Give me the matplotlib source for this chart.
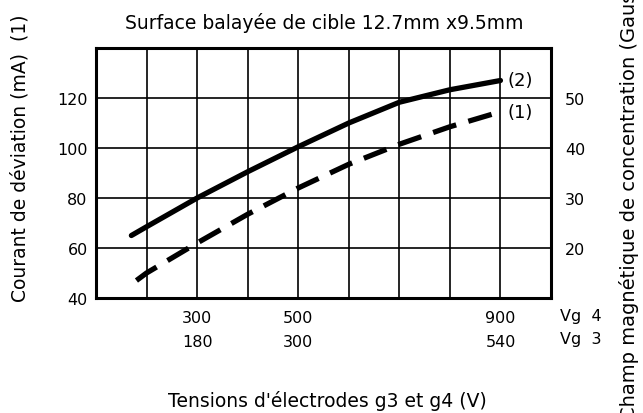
import matplotlib
matplotlib.use("Agg")
import matplotlib.pyplot as plt
import numpy as np

# ---- data ----
vg4_field = [170, 200, 300, 400, 500, 600, 700, 800, 900]
field_curve_left = [65, 68.5, 80, 90.5, 100.5, 110, 118.3, 123.3, 127]   # curve (2), on left-axis scale
vg4_current = [180, 200, 300, 400, 500, 600, 700, 800, 900]
current_curve = [47, 50, 62, 73.5, 84, 93.5, 101.5, 108.5, 114.5]     # curve (1)

x_tick_vg4 = [300, 500, 900]
x_tick_vg3 = [180, 300, 540]
y_ticks_left = [40, 60, 80, 100, 120]
y_ticks_right = [20, 30, 40, 50]

title = "Surface balayée de cible 12.7mm x9.5mm"
xlabel = "Tensions d'électrodes g3 et g4 (V)"
ylabel_left = "Courant de déviation (mA)  (1)"
ylabel_right = "Champ magnétique de concentration (Gauss)  (2)"

plt.rcParams['font.family'] = ['DejaVu Sans']
FS = 11
LFS = 13.5

fig = plt.figure(figsize=(6.43, 4.14), dpi=100)
W, H = 643, 414
ax = fig.add_axes([96 / W, 1 - 299 / H, (551 - 96) / W, (299 - 49) / H])

ax.set_xlim(100, 1000)
ax.set_ylim(40, 140)

# grid
for v in range(200, 1000, 100):
    ax.axvline(v, color='black', lw=1.2, zorder=1)
for y in [60, 80, 100, 120]:
    ax.axhline(y, color='black', lw=1.2, zorder=1)

for s in ax.spines.values():
    s.set_linewidth(2.2)
    s.set_color('black')

ax.plot(vg4_field, field_curve_left, color='black', lw=3.8, solid_capstyle='round',
        solid_joinstyle='round', zorder=3)
ax.plot(vg4_current, current_curve, color='black', lw=3.8, dashes=(4.6, 2.4),
        dash_capstyle='butt', zorder=3)

ax.annotate("(2)", xy=(vg4_field[-1], field_curve_left[-1]), xytext=(5, 0),
            textcoords='offset points', va='center', ha='left', fontsize=FS + 2)
ax.annotate("(1)", xy=(vg4_current[-1], current_curve[-1]), xytext=(5, 0),
            textcoords='offset points', va='center', ha='left', fontsize=FS + 2)

ax.set_xticks(x_tick_vg4)
ax.set_xticklabels([str(v) for v in x_tick_vg4])
ax.set_yticks(y_ticks_left)
ax.tick_params(axis='both', length=0, labelsize=FS + 0.5)
ax.tick_params(axis='x', pad=9)
ax.tick_params(axis='y', pad=6)

sec = ax.secondary_xaxis('bottom', functions=(lambda v: np.asarray(v) * 0.6,
                                              lambda v: np.asarray(v) / 0.6))
sec.set_xticks(x_tick_vg3)
sec.set_xticklabels([str(v) for v in x_tick_vg3])
sec.tick_params(length=0, labelsize=FS + 0.5, pad=26)
sec.spines['bottom'].set_visible(False)

ax2 = ax.twinx()
ax2.set_ylim((40 - 20) / 2, (140 - 20) / 2)
ax2.set_yticks(y_ticks_right)
ax2.tick_params(length=0, labelsize=FS + 0.5, pad=10)
for s in ax2.spines.values():
    s.set_visible(False)

fig.text(560 / W, 1 - 317 / H, "Vg  4", fontsize=FS + 0.5, va='center', ha='left')
fig.text(560 / W, 1 - 340 / H, "Vg  3", fontsize=FS + 0.5, va='center', ha='left')

fig.text(324 / W, 1 - 23 / H, title, fontsize=LFS, ha='center', va='center')
fig.text(327 / W, 1 - 401 / H, xlabel, fontsize=LFS, ha='center', va='center')
fig.text(20 / W, 1 - 158 / H, ylabel_left, fontsize=LFS, rotation=90, ha='center', va='center')
fig.text(629 / W, -6 / H, ylabel_right, fontsize=LFS + 0.5, rotation=90, ha='center', va='bottom')

fig.savefig("out.png", dpi=100)
